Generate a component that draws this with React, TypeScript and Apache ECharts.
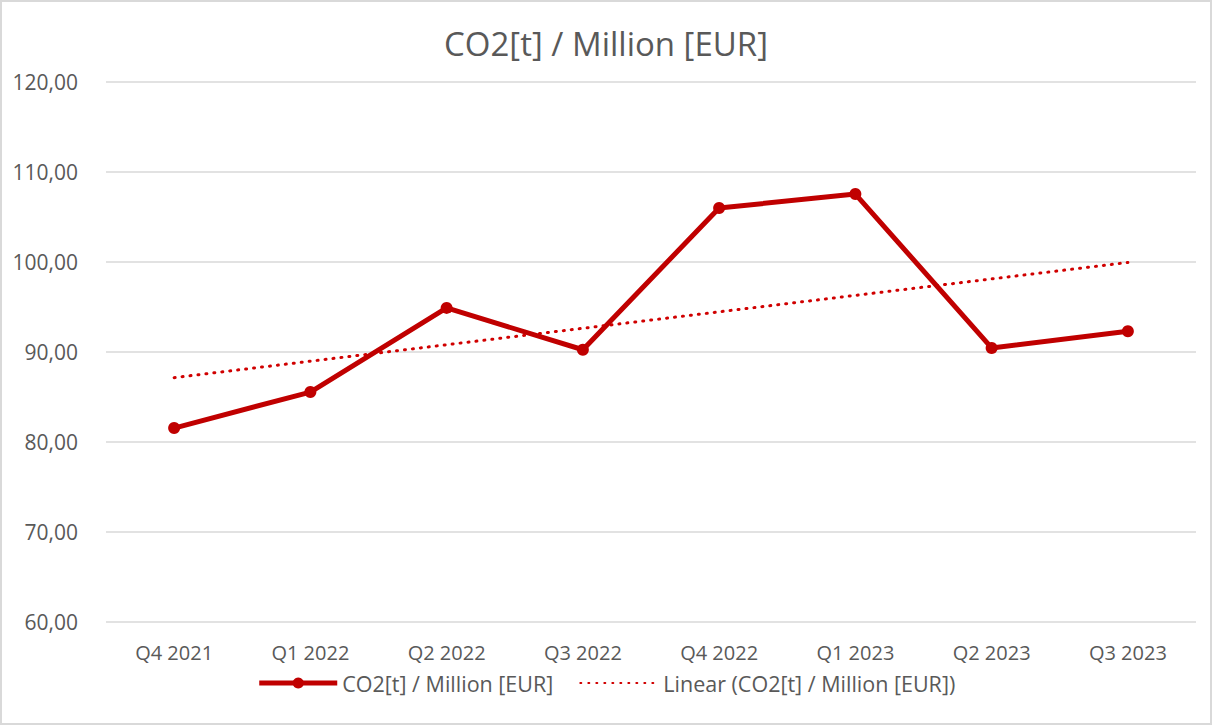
import React, { useEffect, useRef } from "react";
import * as echarts from "echarts";

const categories = ["Q4 2021", "Q1 2022", "Q2 2022", "Q3 2022", "Q4 2022", "Q1 2023", "Q2 2023", "Q3 2023"];
const values = [81.55, 85.55, 94.9, 90.25, 106.0, 107.55, 90.45, 92.3];
// linear trend endpoints (first and last category)
const trendEnds = [87.15, 99.95];
const yTicks = { min: 60, max: 120, interval: 10 };
const seriesName = "CO2[t] / Million [EUR]";
const trendName = "Linear (CO2[t] / Million [EUR])";
const titleText = "CO2[t] / Million [EUR]";

const FONT = "'Open Sans', sans-serif";
const TXT = "#595959";

export default function App() {
  const ref = useRef<HTMLDivElement>(null);
  useEffect(() => {
    document.body.style.margin = "0";
    const chart = echarts.init(ref.current!, null, { renderer: "svg" });
    const trendData = categories.map((_, i) =>
      i === 0 ? trendEnds[0] : i === categories.length - 1 ? trendEnds[1] : null
    );
    chart.setOption({
      animation: false,
      textStyle: { fontFamily: FONT },
      title: {
        text: titleText,
        left: "center",
        top: 22,
        textStyle: { fontFamily: FONT, fontSize: 33, fontWeight: "normal", color: TXT },
      },
      grid: { left: 106, right: 16, top: 82, bottom: 103 },
      legend: {
        bottom: 26,
        left: "center",
        itemGap: 26,
        itemWidth: 78,
        itemHeight: 14,
        textStyle: { fontFamily: FONT, fontSize: 21.5, color: TXT },
        data: [
          { name: seriesName, lineStyle: { width: 5 } },
          {
            name: trendName,
            itemStyle: { color: "rgba(0,0,0,0)", borderWidth: 0 },
          },
        ],
      },
      xAxis: {
        type: "category",
        data: categories,
        boundaryGap: true,
        axisLine: { show: false },
        axisTick: { show: false },
        axisLabel: { fontFamily: FONT, fontSize: 20, color: TXT, margin: 20 },
      },
      yAxis: {
        type: "value",
        min: yTicks.min,
        max: yTicks.max,
        interval: yTicks.interval,
        axisLine: { show: false },
        axisTick: { show: false },
        splitLine: { lineStyle: { color: "#d9d9d9", width: 1.5 } },
        axisLabel: {
          fontFamily: FONT,
          fontSize: 21,
          color: TXT,
          margin: 28,
          formatter: (v: number) => v.toFixed(2).replace(".", ","),
        },
      },
      series: [
        {
          name: seriesName,
          type: "line",
          data: values,
          symbol: "circle",
          symbolSize: 12,
          lineStyle: { color: "#C00000", width: 5 },
          itemStyle: { color: "#C00000" },
          z: 3,
        },
        {
          name: trendName,
          type: "line",
          data: trendData,
          connectNulls: true,
          symbol: "none",
          lineStyle: { color: "#D00000", width: 3, type: [1, 7], cap: "round" },
          itemStyle: { color: "#D00000" },
          z: 2,
        },
      ],
    });
    return () => chart.dispose();
  }, []);
  return (
    <div style={{ position: "relative", width: 1212, height: 725, background: "#fff" }}>
      <div ref={ref} style={{ width: 1212, height: 725 }} />
      <div
        style={{
          position: "absolute",
          left: 0,
          top: 0,
          width: 1212,
          height: 725,
          boxSizing: "border-box",
          border: "2px solid #d9d9d9",
          pointerEvents: "none",
        }}
      />
    </div>
  );
}
